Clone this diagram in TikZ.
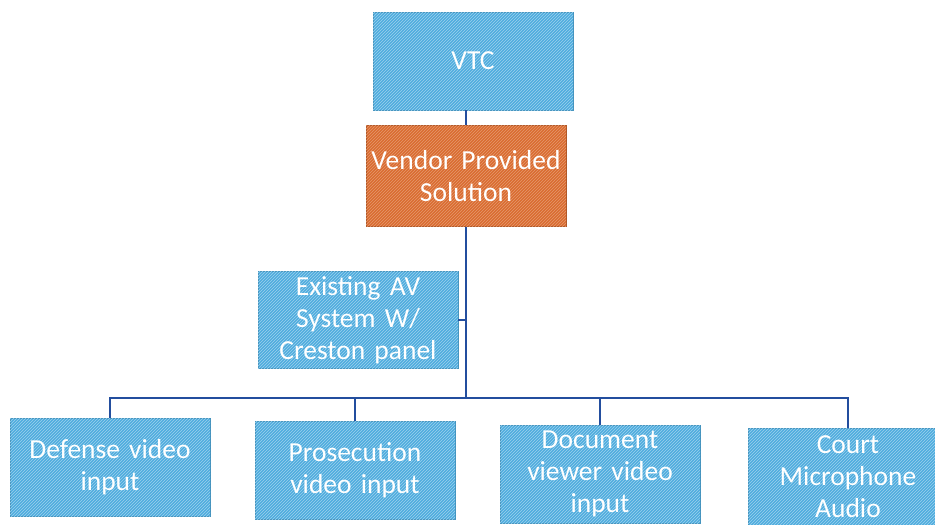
\documentclass[tikz,border=0pt]{standalone}
\usepackage{fontspec}
\setmainfont{Carlito}
\usetikzlibrary{patterns}

\definecolor{boxblue}{RGB}{78,172,222}
\definecolor{boxorange}{RGB}{218,108,48}
\definecolor{linkblue}{RGB}{35,78,158}

\tikzset{
  hatch/.style={postaction={pattern=north east lines, pattern color=#1}},
  unit/.style={fill=boxblue, draw=boxblue!85!black, text=white,
    minimum width=198pt, minimum height=98pt, text width=200pt,
    align=center, inner sep=0pt, font=\fontsize{27.5}{32}\selectfont},
  link/.style={draw=linkblue, line width=1.5pt}
}

\begin{document}
\begin{tikzpicture}[x=1pt,y=-1pt]
\useasboundingbox (0,0) rectangle (935,525);
\clip (0,0) rectangle (935,525);
\fill[white] (0,0) rectangle (935,525);

% top of the chart
\node[unit, hatch=white!45!boxblue] (vtc) at (473,61) {VTC};
\node[unit, fill=boxorange, draw=boxorange!80!black, minimum height=101pt,
      hatch=white!30!boxorange] (vendor) at (466,176) {Vendor Provided\\Solution};
\node[unit, minimum width=200pt, minimum height=97pt,
      hatch=white!45!boxblue] (avsys) at (358,320) {Existing AV\\System W/\\Creston panel};

% bottom row
\node[unit, hatch=white!45!boxblue] (defense) at (110,467) {Defense video\\input};
\node[unit, hatch=white!45!boxblue] (prosecution) at (355,470) {Prosecution\\video input};
\node[unit, hatch=white!45!boxblue] (document) at (600,474) {Document\\viewer video\\input};
\node[unit, hatch=white!45!boxblue] (court) at (848,477) {Court\\Microphone\\Audio};

\coordinate (bus) at (466,398);

\draw[link] (vtc.south -| vendor.north) -- (vendor.north);
\draw[link] (vendor.south) -- (bus);
\draw[link] (avsys.east) -- (avsys.east -| bus);
\foreach \n in {defense,prosecution,document,court}
  \draw[link] (bus) -| (\n.north);
\end{tikzpicture}
\end{document}
